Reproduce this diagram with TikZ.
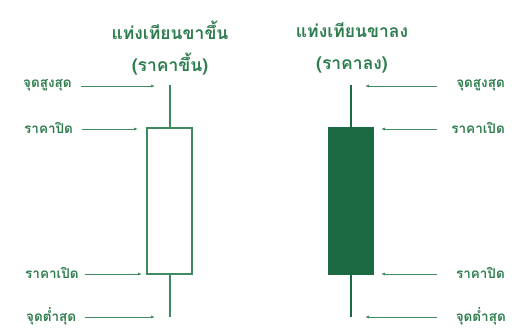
\documentclass[tikz,border=0pt]{standalone}
\usepackage{fontspec}
\newfontfamily\thaifont[Script=Thai]{Loma}
\usetikzlibrary{arrows.meta}
\definecolor{tgreen}{HTML}{2E7D4E}
\definecolor{lgreen}{HTML}{3F8A60}
\definecolor{dgreen}{HTML}{1B6A44}
\tikzset{
  title/.style={font=\thaifont\bfseries\fontsize{17.5}{19}\selectfont, text=tgreen, inner sep=0pt},
  lbl/.style={font=\thaifont\bfseries\fontsize{13.5}{15}\selectfont, text=tgreen, inner sep=0pt},
  wick/.style={draw=lgreen, line width=1.2pt},
  body/.style={draw=lgreen, line width=1.2pt},
  arr/.style={draw=lgreen, line width=0.9pt, -{Latex[length=4pt,width=3pt]}},
}
\begin{document}
\begin{tikzpicture}[x=1pt,y=-1pt]
\useasboundingbox[fill=white] (0,0) rectangle (512,330);
% titles
\node[title] (t1a) at (170,30) {แท่งเทียนขาขึ้น};
\node[title] (t1b) at (170,64.5) {(ราคาขึ้น)};
\node[title] (t2a) at (352,30) {แท่งเทียนขาลง};
\node[title] (t2b) at (352,64.5) {(ราคาลง)};
% left candle
\coordinate (lhigh) at (170,85);
\coordinate (llow) at (170,317);
\draw[body, fill=white] (147,128) rectangle (192,274);
\coordinate (ltop) at (170,128);
\coordinate (lbot) at (170,274);
\draw[wick] (lhigh) -- (ltop);
\draw[wick] (lbot) -- (llow);
% right candle
\coordinate (rhigh) at (351,85);
\coordinate (rlow) at (351,317);
\draw[body, fill=dgreen, draw=dgreen] (329,128) rectangle (373,274);
\coordinate (rtop) at (351,128);
\coordinate (rbot) at (351,274);
\draw[wick, draw=dgreen] (rhigh) -- (rtop);
\draw[wick, draw=dgreen] (rbot) -- (rlow);
% left labels
\node[lbl, anchor=west] (l1) at (23,85) {จุดสูงสุด};
\node[lbl, anchor=west] (l2) at (24,128) {ราคาปิด};
\node[lbl, anchor=west] (l3) at (25,273) {ราคาเปิด};
\node[lbl, anchor=west] (l4) at (26,316) {จุดต่ำสุด};
\coordinate (a1s) at (81,86);  \coordinate (a1e) at (155,86);
\coordinate (a2s) at (82,129); \coordinate (a2e) at (138,129);
\coordinate (a3s) at (85,274); \coordinate (a3e) at (142,274);
\coordinate (a4s) at (85,317); \coordinate (a4e) at (155,317);
\draw[arr] (a1s) -- (a1e);
\draw[arr] (a2s) -- (a2e);
\draw[arr] (a3s) -- (a3e);
\draw[arr] (a4s) -- (a4e);
% right labels
\node[lbl, anchor=east] (r1) at (505,85) {จุดสูงสุด};
\node[lbl, anchor=east] (r2) at (505,128) {ราคาเปิด};
\node[lbl, anchor=east] (r3) at (505,273) {ราคาปิด};
\node[lbl, anchor=east] (r4) at (506,316) {จุดต่ำสุด};
\coordinate (b1s) at (437,86);  \coordinate (b1e) at (365,86);
\coordinate (b2s) at (437,129); \coordinate (b2e) at (381,129);
\coordinate (b3s) at (437,274); \coordinate (b3e) at (381,274);
\coordinate (b4s) at (437,317); \coordinate (b4e) at (365,317);
\draw[arr] (b1s) -- (b1e);
\draw[arr] (b2s) -- (b2e);
\draw[arr] (b3s) -- (b3e);
\draw[arr] (b4s) -- (b4e);
\end{tikzpicture}
\end{document}
